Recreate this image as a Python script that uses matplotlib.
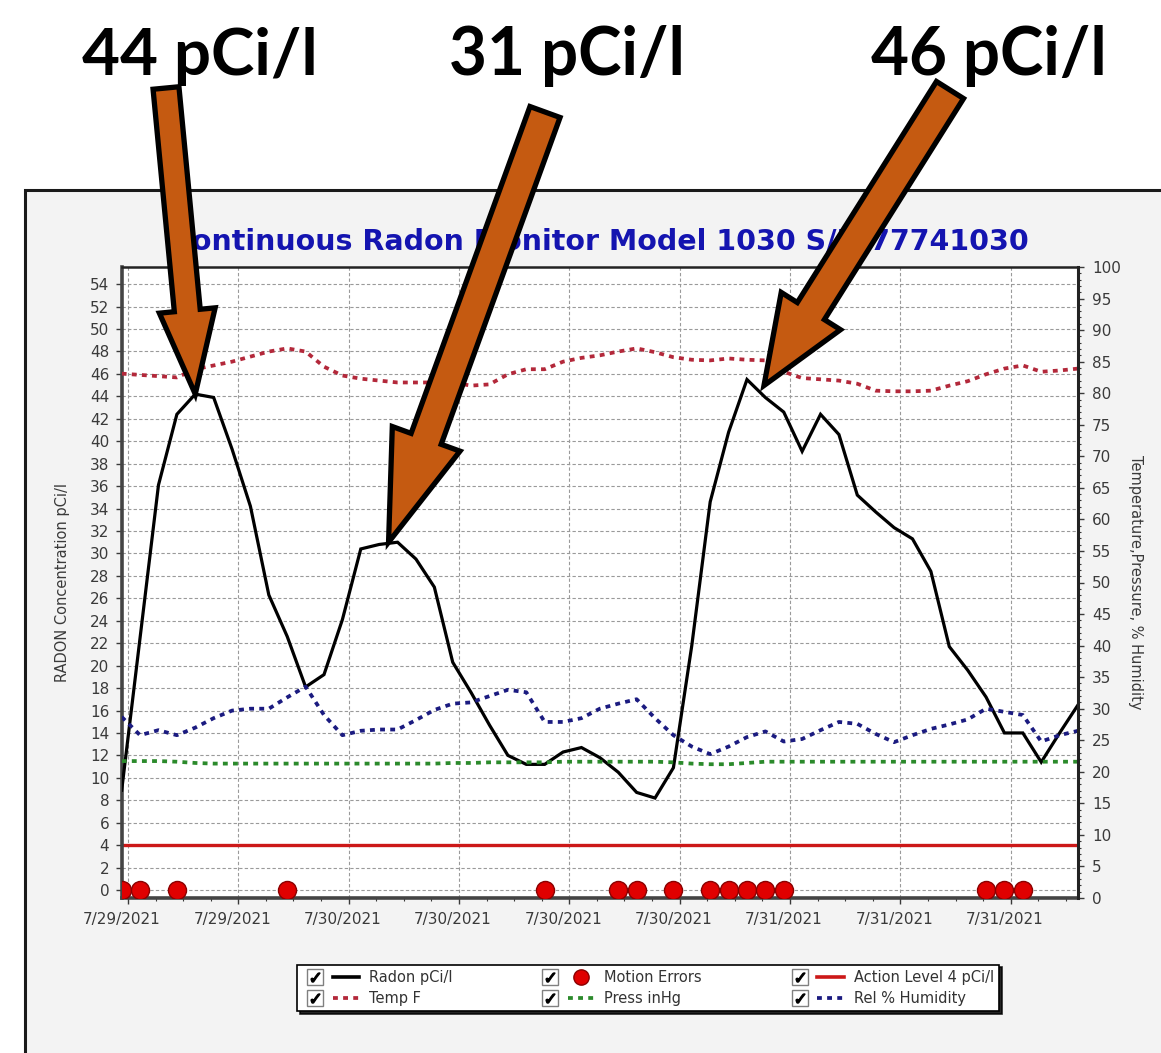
import matplotlib
matplotlib.use("Agg")
import matplotlib.pyplot as plt
from matplotlib.patches import Rectangle, FancyArrow
from matplotlib.lines import Line2D
from matplotlib.legend_handler import HandlerTuple
from matplotlib.ticker import FixedLocator, MultipleLocator
from matplotlib.transforms import ScaledTranslation

# ---------------- data ----------------
hours = list(range(53))
radon = [8.9, 22.5, 36.1, 42.4, 44.2, 43.9, 39.3, 34.2, 26.3, 22.6,
         18.1, 19.2, 24.1, 30.4, 30.8, 31.0, 29.5, 27.0, 20.3, 17.6,
         14.7, 12.0, 11.2, 11.2, 12.3, 12.7, 11.8, 10.5, 8.7, 8.2,
         10.9, 21.8, 34.6, 40.8, 45.5, 43.9, 42.6, 39.1, 42.4, 40.6,
         35.2, 33.7, 32.3, 31.3, 28.4, 21.7, 19.6, 17.2, 14.0, 14.0,
         11.4, 14.0, 16.5]
temp_f = [83.1, 82.9, 82.7, 82.5, 83.8, 84.4, 85.0, 85.8, 86.6, 87.1,
          86.6, 84.2, 82.8, 82.3, 82.0, 81.7, 81.7, 81.7, 81.7, 81.2,
          81.4, 83.0, 83.8, 83.8, 85.0, 85.6, 86.0, 86.6, 87.1, 86.5,
          85.7, 85.3, 85.2, 85.5, 85.3, 85.2, 83.4, 82.4, 82.2, 82.0,
          81.5, 80.4, 80.3, 80.3, 80.4, 81.2, 81.9, 83.0, 83.9, 84.4,
          83.4, 83.6, 83.9]
press_inhg = [21.7, 21.7, 21.7, 21.6, 21.4, 21.3, 21.3, 21.3, 21.3, 21.3,
              21.3, 21.3, 21.3, 21.3, 21.3, 21.3, 21.3, 21.3, 21.4, 21.4,
              21.5, 21.5, 21.5, 21.5, 21.6, 21.6, 21.6, 21.6, 21.6, 21.6,
              21.5, 21.3, 21.2, 21.2, 21.4, 21.6, 21.6, 21.6, 21.6, 21.6,
              21.6, 21.6, 21.6, 21.6, 21.6, 21.6, 21.6, 21.6, 21.6, 21.6,
              21.6, 21.6, 21.6]
humidity = [28.7, 25.8, 26.6, 25.8, 27.0, 28.5, 29.7, 30.0, 30.0, 31.8,
            33.5, 29.0, 25.8, 26.5, 26.7, 26.7, 28.2, 29.8, 30.8, 31.0,
            32.0, 33.0, 32.6, 27.9, 27.9, 28.5, 30.0, 30.8, 31.5, 28.5,
            25.8, 24.0, 22.8, 24.0, 25.5, 26.4, 24.8, 25.2, 26.6, 27.9,
            27.6, 26.0, 24.7, 25.8, 26.8, 27.5, 28.3, 30.0, 29.5, 29.0,
            24.8, 25.8, 26.5]
motion_hours = [0, 1, 3, 9, 23, 27, 28, 30, 32, 33, 34, 35, 36, 47, 48, 49]
action_level = 4
tick_hours = [0.34 + 6 * j for j in range(9)]
tick_labels = ["7/29/2021", "7/29/2021", "7/30/2021", "7/30/2021", "7/30/2021",
               "7/30/2021", "7/31/2021", "7/31/2021", "7/31/2021"]
left_ticks = list(range(0, 55, 2))
right_ticks = list(range(0, 101, 5))
callout_texts = ["44 pCi/l", "31 pCi/l", "46 pCi/l"]
callout_peaks = [4, 15, 34]

title = "Continuous Radon Monitor Model 1030 S/N 77741030"

# ---------------- figure ----------------
W, H = 1161, 1053
fig = plt.figure(figsize=(W / 100, H / 100), dpi=100)
fig.patch.set_facecolor("white")

# panel background
panel = Rectangle((25 / W, -0.05), 1.2, (1 - 190 / H) + 0.05, transform=fig.transFigure,
                  facecolor="#f3f3f3", edgecolor="#1a1a1a", linewidth=2.2, zorder=0)
fig.add_artist(panel)

ax_l, ax_r, ax_t, ax_b = 121.7, 1078, 267, 898
ax = fig.add_axes([ax_l / W, 1 - ax_b / H, (ax_r - ax_l) / W, (ax_b - ax_t) / H])
ax.set_facecolor("white")
ax2 = ax.twinx()

tick_color = "#3a3a3a"
ax.set_xlim(0, 52)
ax.set_ylim(-0.71, 55.53)
ax2.set_ylim(0, 100)

# grid / ticks
ax.yaxis.set_major_locator(FixedLocator(left_ticks))
ax.xaxis.set_major_locator(FixedLocator(tick_hours))
ax.xaxis.set_minor_locator(FixedLocator([0.34 + 1.5 * j for j in range(35)]))
ax.set_xticklabels(tick_labels)
ax.grid(True, which="major", color="#9a9a9a", linestyle=(0, (3, 2)), linewidth=0.8)
ax.set_axisbelow(True)
ax2.yaxis.set_major_locator(FixedLocator(right_ticks))
ax2.yaxis.set_minor_locator(MultipleLocator(1))

for a in (ax, ax2):
    a.tick_params(colors=tick_color, labelsize=11, length=4, width=1, direction="out")
    a.tick_params(which="minor", length=2.5, width=0.8, colors=tick_color)
ax.tick_params(axis="y", pad=5)
ax2.tick_params(axis="y", pad=6)
ax.tick_params(axis="x", pad=6)
shift = ScaledTranslation(-6 / 100, 0, fig.dpi_scale_trans)
for lbl in ax.get_xticklabels():
    lbl.set_transform(lbl.get_transform() + shift)

for s in ("left", "bottom"):
    ax.spines[s].set_linewidth(2.6)
    ax.spines[s].set_color("#444444")
for s in ("top", "right"):
    ax.spines[s].set_linewidth(1.8)
    ax.spines[s].set_color("#222222")
for s in ("left", "bottom", "top"):
    ax2.spines[s].set_visible(False)
ax2.spines["right"].set_linewidth(2.2)
ax2.spines["right"].set_color("#222222")

# series
dot = (0, (1.3, 1.4))
ax.axhline(action_level, color="#cc1818", linewidth=2.4, zorder=2)
ax.plot(hours, radon, color="black", linewidth=2.3, zorder=4, solid_joinstyle="miter")
ax.plot(motion_hours, [0] * len(motion_hours), linestyle="none", marker="o", markersize=13,
        markerfacecolor="#e00000", markeredgecolor="#8a0000", markeredgewidth=1.0, zorder=5)
ax2.plot(hours, temp_f, color="#b3283a", linewidth=2.7, linestyle=dot)
ax2.plot(hours, press_inhg, color="#2b8a2b", linewidth=2.7, linestyle=dot)
ax2.plot(hours, humidity, color="#1b1b80", linewidth=2.7, linestyle=dot)

# axis labels
ax.set_ylabel("RADON Concentration pCi/l", fontsize=10.5, color=tick_color)
ax.yaxis.set_label_coords((70 - ax_l) / (ax_r - ax_l), 0.5)
ax2.set_ylabel("Temperature,Pressure, % Humidity", fontsize=10.5, color=tick_color, rotation=-90)
ax2.yaxis.set_label_coords((1143 - ax_l) / (ax_r - ax_l), 0.5)

renderer = fig.canvas.get_renderer()


def fit_text(x_px, y_px, s, target_w, size0, **kw):
    t = fig.text(x_px / W, 1 - y_px / H, s, fontsize=size0, **kw)
    bb = t.get_window_extent(renderer=renderer)
    t.set_fontsize(size0 * target_w / bb.width)
    return t


fit_text(600, 242, title, 862, 18, ha="center", va="center", color="#1414b0",
         fontweight="bold", family="DejaVu Sans", zorder=3)

# legend
class Pair(tuple):
    pass


class Check(tuple):
    pass


def checkbox():
    box = Line2D([], [], marker="s", markersize=11, markerfacecolor="white",
                 markeredgecolor="#808080", markeredgewidth=1.0, linestyle="none")
    tk = Line2D([], [], marker=r"$\checkmark$", markersize=6.5, color="black", linestyle="none")
    return Check((box, tk))


h_radon = Line2D([], [], color="black", linewidth=2.6)
h_temp = Line2D([], [], color="#b3283a", linewidth=2.7, linestyle=dot)
h_motion = Line2D([], [], marker="o", markersize=11, markerfacecolor="#e00000",
                  markeredgecolor="#8a0000", linestyle="none")
h_press = Line2D([], [], color="#2b8a2b", linewidth=2.7, linestyle=dot)
h_action = Line2D([], [], color="#cc1818", linewidth=2.6)
h_hum = Line2D([], [], color="#1b1b80", linewidth=2.7, linestyle=dot)

handles = [Pair((checkbox(), h_radon)), Pair((checkbox(), h_temp)),
           Pair((checkbox(), h_motion)), Pair((checkbox(), h_press)),
           Pair((checkbox(), h_action)), Pair((checkbox(), h_hum))]
labels = ["Radon pCi/l", "Temp F", "Motion Errors", "Press inHg",
          "Action Level 4 pCi/l", "Rel % Humidity"]
leg = fig.legend(handles, labels, ncol=3, loc="center",
                 bbox_to_anchor=(648 / W, 1 - 988 / H), bbox_transform=fig.transFigure,
                 handler_map={Pair: HandlerTuple(ndivide=None, pad=0.3),
                              Check: HandlerTuple(ndivide=1)},
                 fontsize=10.5, handlelength=3.9, handletextpad=0.7, columnspacing=5.8,
                 labelspacing=0.45, borderpad=0.35, numpoints=1, frameon=True,
                 fancybox=False, edgecolor="black", framealpha=1,
                 shadow={"color": "black", "alpha": 0.85})
leg.get_frame().set_linewidth(1.2)
for t in leg.get_texts():
    t.set_color("#333333")

# callouts: arrows pointing at peaks
orange = "#c55a11"
arrow_specs = [  # tail (image px), tip offset px, width, head width, head length
    ((166, 88), (0, 0), 26, 56, 84),
    ((545, 112), (-9, 0), 32, 72, 110),
    ((950, 90), (17, 6), 32, 70, 88),
]
for (tail, off, w_, hw, hl), pk in zip(arrow_specs, callout_peaks):
    tip_disp = ax.transData.transform((hours[pk], radon[pk]))
    tx = (tip_disp[0] + off[0]) / 100
    ty = (tip_disp[1] - off[1]) / 100
    sx = tail[0] / 100
    sy = (H - tail[1]) / 100
    arr = FancyArrow(sx, sy, tx - sx, ty - sy, width=w_ / 100, head_width=hw / 100,
                     head_length=hl / 100, length_includes_head=True,
                     transform=fig.dpi_scale_trans, facecolor=orange, edgecolor="black",
                     linewidth=3.8, joinstyle="miter", zorder=10)
    fig.add_artist(arr)

callout_x = [200, 567, 989]
for s, cx in zip(callout_texts, callout_x):
    fit_text(cx, 75, s, 236, 46, ha="center", va="baseline", color="black",
             fontweight="bold", family=["Lato", "DejaVu Sans"], zorder=11)

fig.savefig("out.png", dpi=100)
